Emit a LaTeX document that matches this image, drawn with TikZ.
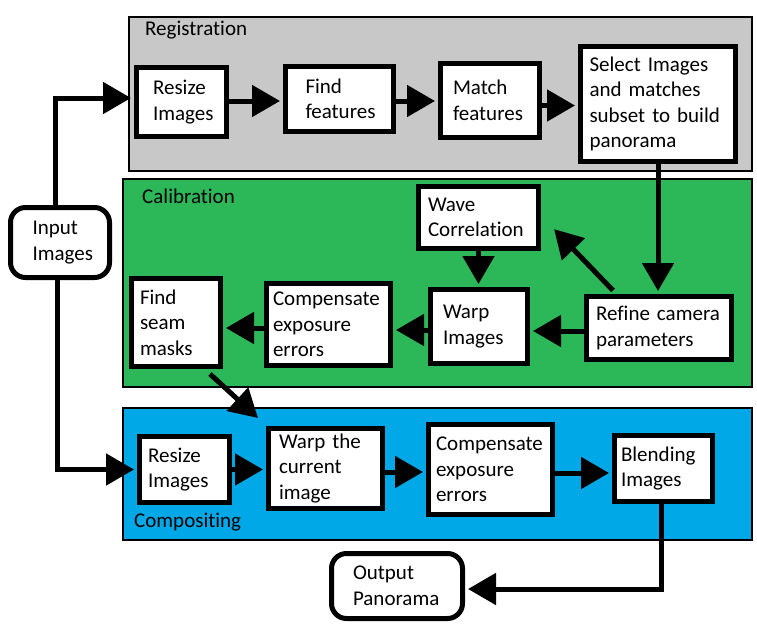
\documentclass[tikz,border=0pt]{standalone}
\usepackage{fontspec}
\setmainfont{Carlito}[Ligatures={NoCommon,NoContextual}]
\usetikzlibrary{arrows.meta}

\definecolor{regfill}{RGB}{200,200,200}
\definecolor{calfill}{RGB}{44,184,88}
\definecolor{compfill}{RGB}{0,168,232}

\tikzset{
	panel/.style 2 args={draw, line width=1.2pt, rectangle, minimum width=#1, minimum height=#2, inner sep=0pt},
	stage/.style n args={3}{draw, line width=5pt, fill=white, rectangle, minimum width=#1, minimum height=#2, text width=#1-2*#3, align=left, inner sep=0pt},
	terminal/.style n args={3}{stage={#1}{#2}{#3}, rounded corners=15pt},
	panellabel/.style={anchor=base west, inner sep=0pt},
	flow/.style={line width=5pt, -{Triangle[length=28pt, width=31pt]}, shorten >=3pt},
}

\begin{document}
\begin{tikzpicture}[x=1pt, y=-1pt, font=\fontsize{21}{25.5}\selectfont]

	\useasboundingbox (0,0) rectangle (757,629);

	% panels
	\node[panel={623pt}{154pt}, fill=regfill] (registration) at (440.5,94) {};
	\node[panel={629pt}{208pt}, fill=calfill] (calibration) at (437.5,283) {};
	\node[panel={629pt}{132pt}, fill=compfill] (compositing) at (437.5,474) {};

	\node[panellabel] (reglabel) at (145,35) {Registration};
	\node[panellabel] (callabel) at (142,203) {Calibration};
	\node[panellabel] (complabel) at (134,527) {Compositing};

	% registration
	\node[stage={90pt}{69pt}{16.5pt}] (rresize) at (181.5,102) {Resize\\Images};
	\node[stage={108pt}{65pt}{20pt}] (rfind) at (339.5,99) {Find\\features};
	\node[stage={99pt}{74pt}{12.5pt}] (rmatch) at (490,100.5) {Match\\features};
	\node[stage={155pt}{115pt}{9pt}] (rselect) at (658,104) {Select Images\\and matches\\subset to build\\panorama};

	% calibration
	\node[stage={120pt}{62pt}{9.5pt}] (wave) at (478.5,217.5) {Wave\\Correlation};
	\node[stage={97pt}{74pt}{12.5pt}] (warp) at (479,326.5) {Warp\\Images};
	\node[stage={145pt}{63pt}{9.5pt}] (refine) at (659,328) {Refine camera\\parameters};
	\node[stage={124pt}{82pt}{6.5pt}] (ccomp) at (328.5,324.5) {Compensate\\exposure\\errors};
	\node[stage={89pt}{88pt}{8.5pt}] (seam) at (176,322.5) {Find\\seam\\masks};

	% compositing
	\node[stage={90pt}{66pt}{8.5pt}] (cresize) at (184.5,469.5) {Resize\\Images};
	\node[stage={114pt}{80pt}{10.5pt}] (cwarp) at (325.5,468.5) {Warp the\\current\\image};
	\node[stage={124pt}{90pt}{7.5pt}] (ccompb) at (490.5,469.5) {Compensate\\exposure\\errors};
	\node[stage={98pt}{66pt}{6.5pt}] (blend) at (663.5,468.5) {Blending\\Images};

	\node[terminal={99pt}{70pt}{22pt}] (input) at (60,242.5) {Input\\Images};
	\node[terminal={131pt}{65pt}{21.5pt}] (output) at (397,586) {Output\\Panorama};

	% connectors
	\draw[flow] ([xshift=-5pt]input.north) |- ([yshift=4pt]rresize.west);
	\draw[flow] ([xshift=-3pt]input.south) |- (cresize.west);

	\draw[flow] ([yshift=1pt]rresize.east) -- ([yshift=1pt]rresize.east -| rfind.west);
	\draw[flow] ([yshift=-2pt]rfind.east) -- ([yshift=-2pt]rfind.east -| rmatch.west);
	\draw[flow] ([yshift=-5pt]rmatch.east) -- ([yshift=-5pt]rmatch.east -| rselect.west);
	\draw[flow] (rselect.south) -- (rselect.south |- refine.north);

	\draw[flow] ([xshift=-46pt,yshift=3.5pt]refine.north) -- ([xshift=11pt,yshift=-9.5pt]wave.east);
	\draw[flow] (wave.south) -- (wave.south |- warp.north);
	\draw[flow] ([yshift=-3pt]refine.west) -- ([yshift=-3pt]refine.west -| warp.east);
	\draw[flow] ([yshift=-3.5pt]warp.west) -- ([yshift=-3.5pt]warp.west -| ccomp.east);
	\draw[flow] ([yshift=-3.5pt]ccomp.west) -- ([yshift=-3.5pt]ccomp.west -| seam.east);
	\draw[flow, shorten >=0pt] ([xshift=34pt,yshift=-5pt]seam.south) -- ([xshift=-8pt,yshift=8pt]cwarp.north west);

	\draw[flow] (cresize.east) -- (cresize.east -| cwarp.west);
	\draw[flow] ([yshift=-3.5pt]cwarp.east) -- ([yshift=-3.5pt]cwarp.east -| ccompb.west);
	\draw[flow] ([yshift=-3.5pt]ccompb.east) -- ([yshift=-3.5pt]ccompb.east -| blend.west);
	\draw[flow] ([xshift=-2.5pt]blend.south) |- ([yshift=-3pt]output.east);

\end{tikzpicture}
\end{document}
